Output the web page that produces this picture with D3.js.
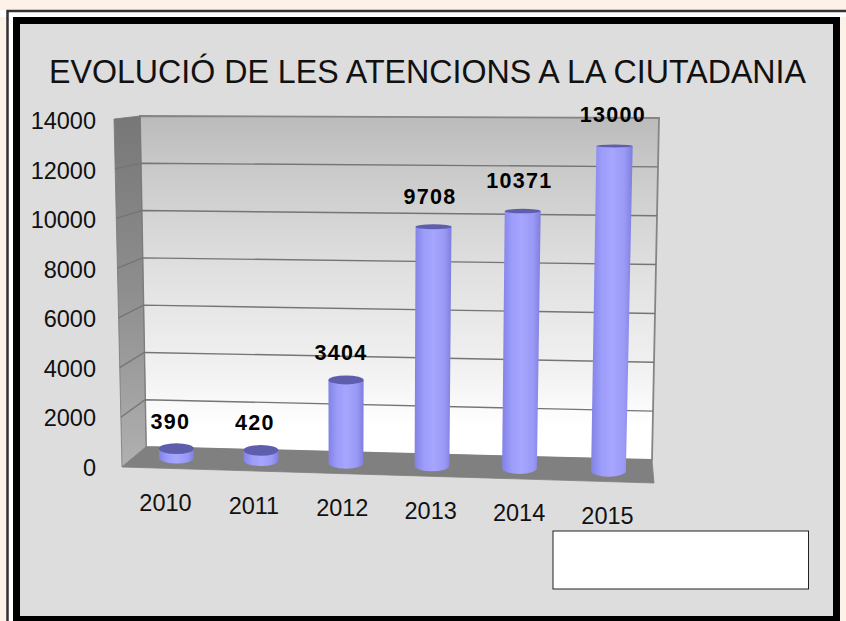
<!DOCTYPE html>
<html>
<head>
<meta charset="utf-8">
<script src="https://cdn.jsdelivr.net/npm/d3@7/dist/d3.min.js"></script>
<style>
html,body{margin:0;padding:0;background:#fdf2e8;}
svg{display:block;}
text{font-family:"Liberation Sans",Arial,sans-serif;fill:#111;}
</style>
</head>
<body>
<svg id="chart" width="846" height="621"></svg>
<script>
// Annual citizen attention figures
const years = ["2010","2011","2012","2013","2014","2015"];
const attentions = [390,420,3404,9708,10371,13000];
const yTicks = [0,2000,4000,6000,8000,10000,12000,14000];
const title = "EVOLUCIÓ DE LES ATENCIONS A LA CIUTADANIA";

// Foot of each cylinder along the floor; perspective spreads them unevenly
const footX = [176.5,261,346,432,519.5,608.5];
// Small hand placement of the value captions
const captionDx = [-6,-6,-5,-2,0,4.5];
const captionDy = [20,20,20,23,23,24];

const svg = d3.select("#chart");
const defs = svg.append("defs");

function linearGradient(id, x2, y2, stops){
  const g = defs.append("linearGradient").attr("id",id)
    .attr("x1",0).attr("y1",0).attr("x2",x2).attr("y2",y2);
  stops.forEach(([o,c])=>g.append("stop").attr("offset",o).attr("stop-color",c));
}
linearGradient("wallFill",0,1,[[0,"#bbbbbb"],[0.15,"#c9c9c9"],[0.45,"#e0e0e0"],[0.75,"#f2f2f2"],[0.9,"#ffffff"],[1,"#ffffff"]]);
linearGradient("sideFill",0,1,[[0,"#777777"],[0.5,"#8e8e8e"],[1,"#b0b0b0"]]);
linearGradient("barFill",1,0,[[0,"#8282e6"],[0.25,"#9c9cfa"],[0.5,"#a6a6ff"],[0.8,"#9a9af6"],[1,"#7e7ede"]]);

// Frames around the panel
svg.append("rect").attr("x",0).attr("y",10).attr("width",846).attr("height",7).attr("fill","#fff");
svg.append("rect").attr("x",7.5).attr("y",11).attr("width",840).attr("height",620)
  .attr("fill","#fff").attr("stroke","#333").attr("stroke-width",2.5);
svg.append("rect").attr("x",840).attr("y",17).attr("width",6).attr("height",604).attr("fill","#fdf2e8");
svg.append("rect").attr("x",16.5).attr("y",20.5).attr("width",820).attr("height",599)
  .attr("fill","#dddddd").attr("stroke","#000").attr("stroke-width",7);

// Corners of the 3D box, expressed as scales over the value axis
const vDomain = [0,14000];
const backLeftX  = d3.scaleLinear(vDomain,[146,140]);
const backLeftY  = d3.scaleLinear(vDomain,[447,116]);
const backRightX = d3.scaleLinear(vDomain,[652,659]);
const backRightY = d3.scaleLinear(vDomain,[460,118]);
const sideX      = d3.scaleLinear(vDomain,[122,114]);
const sideY      = d3.scaleLinear(vDomain,[467,119]);

const line = d3.line();
const [v0,v1] = vDomain;

svg.append("path")
  .attr("d",line([[backLeftX(v1),backLeftY(v1)],[backRightX(v1),backRightY(v1)],[backRightX(v0),backRightY(v0)],[backLeftX(v0),backLeftY(v0)]])+"Z")
  .attr("fill","url(#wallFill)").attr("stroke","#858585").attr("stroke-width",1.8);
svg.append("path")
  .attr("d",line([[sideX(v1),sideY(v1)],[backLeftX(v1),backLeftY(v1)],[backLeftX(v0),backLeftY(v0)],[sideX(v0),sideY(v0)]])+"Z")
  .attr("fill","url(#sideFill)").attr("stroke","#777").attr("stroke-width",0.8);
svg.append("path")
  .attr("d",line([[sideX(v0),sideY(v0)],[backLeftX(v0),backLeftY(v0)],[backRightX(v0),backRightY(v0)],[654,483]])+"Z")
  .attr("fill","#808080").attr("stroke","#808080").attr("stroke-width",0.8);

// Gridlines run along the side wall and then across the back wall
svg.append("g").selectAll("path").data(yTicks.slice(1,-1)).join("path")
  .attr("d",v=>line([[sideX(v),sideY(v)],[backLeftX(v),backLeftY(v)],[backRightX(v),backRightY(v)]]))
  .attr("fill","none").attr("stroke","#757575").attr("stroke-width",1.4);

// Value axis captions
const yLabelPos = d3.scaleLinear(vDomain,[467.5,120.5]);
svg.append("g").selectAll("text").data(yTicks).join("text")
  .attr("x",96).attr("y",v=>yLabelPos(v)+8.5)
  .attr("text-anchor","end").attr("font-size",23.5).text(d=>d);

// Cylinders stand on a plane halfway into the box and lean with the perspective
const baseX = d3.scaleOrdinal(years,footX);
const planeBase = d3.scaleLinear([176,608],[458,471]);
const planeTop = d3.scaleLinear([176,608],[121,121]);
const lean = d3.scaleLinear([176,608],[-4,6.5]);
const halfWidth = d3.scaleLinear(vDomain,[17.4,18.2]);
const ellipseRy = d3.scaleLinear([130,460],[1.3,5.5]);
const planeY = (x,v)=>planeBase(x)+(planeTop(x)-planeBase(x))*v/v1;
const topX = (x,v)=>x+lean(x)*v/v1;

const bars = svg.append("g").selectAll("g").data(attentions).join("g");
bars.append("path")
  .attr("d",(v,i)=>{
    const x = baseX(years[i]), b = planeBase(x), t = planeY(x,v), tx = topX(x,v);
    const w0 = halfWidth(0), w1 = halfWidth(v);
    return `M${tx-w1},${t}L${x-w0},${b}A${w0},${ellipseRy(b)} 0 0 0 ${x+w0},${b}L${tx+w1},${t}Z`;
  })
  .attr("fill","url(#barFill)");
bars.append("ellipse")
  .attr("cx",(v,i)=>topX(baseX(years[i]),v))
  .attr("cy",(v,i)=>planeY(baseX(years[i]),v))
  .attr("rx",v=>halfWidth(v))
  .attr("ry",(v,i)=>ellipseRy(planeY(baseX(years[i]),v)))
  .attr("fill","#5e5eac");

// Value captions above each cylinder
svg.append("g").selectAll("text").data(attentions).join("text")
  .attr("x",(v,i)=>baseX(years[i])+captionDx[i])
  .attr("y",(v,i)=>planeY(baseX(years[i]),v)-captionDy[i])
  .attr("text-anchor","middle").attr("font-size",21.5).attr("font-weight","bold")
  .attr("letter-spacing",1.3).style("fill","#000").text(d=>d);

// Year captions follow the slope of the floor
const yearY = d3.scalePoint(years,[511,524]);
const yearX = d3.scalePoint(years,[165.5,607.5]);
svg.append("g").selectAll("text").data(years).join("text")
  .attr("x",d=>yearX(d)).attr("y",d=>yearY(d))
  .attr("text-anchor","middle").attr("font-size",23.5).text(d=>d);

// Title and the empty legend box
svg.append("text").attr("x",49).attr("y",83).attr("font-size",33)
  .attr("textLength",757).attr("lengthAdjust","spacingAndGlyphs").text(title);
svg.append("rect").attr("x",553).attr("y",531).attr("width",255.5).attr("height",58)
  .attr("fill","#fff").attr("stroke","#222").attr("stroke-width",1);
</script>
</body>
</html>
